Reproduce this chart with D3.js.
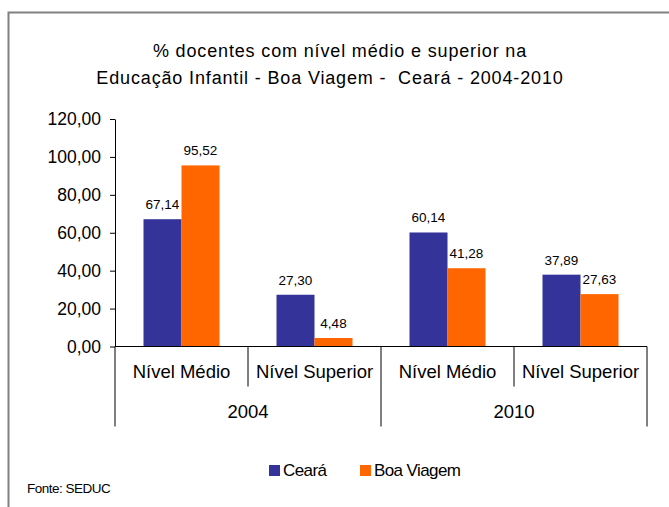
<!DOCTYPE html>
<html>
<head>
<meta charset="utf-8">
<script src="https://cdn.jsdelivr.net/npm/d3@7"></script>
<style>
  body { margin: 0; background: #fff; }
  text { font-family: "Liberation Sans", Arial, sans-serif; fill: #000; }
</style>
</head>
<body>
<div id="chart"></div>
<script>
var years = ["2004", "2010"];
var levels = ["Nível Médio", "Nível Superior"];
var series = ["Ceará", "Boa Viagem"];
var colors = ["#333399", "#FF6600"];
// values per [year][level]
var ceara = [[67.14, 27.30], [60.14, 37.89]];
var boaViagem = [[95.52, 4.48], [41.28, 27.63]];
var yTicks = [0, 20, 40, 60, 80, 100, 120];
var titleLines = ["% docentes com nível médio e superior na",
                  "Educação Infantil - Boa Viagem -  Ceará - 2004-2010"];
var source = "Fonte: SEDUC";

var W = 669, H = 507;
var locale = d3.formatLocale({decimal: ",", thousands: ".", grouping: [3], currency: ["R$", ""]});
var fmt = locale.format(".2f");

var svg = d3.select("#chart").append("svg")
    .attr("width", W)
    .attr("height", H);

// outer frame (runs off right and bottom edge)
svg.append("rect")
    .attr("x", 8.5).attr("y", 12.5)
    .attr("width", W + 10).attr("height", H + 10)
    .attr("fill", "none")
    .attr("stroke", "#808080")
    .attr("stroke-width", 2);

// title
svg.selectAll(".title")
    .data(titleLines)
  .enter().append("text")
    .attr("class", "title")
    .attr("x", function(d, i) { return i === 0 ? 340 : 330; })
    .attr("y", function(d, i) { return 57 + i * 27; })
    .attr("text-anchor", "middle")
    .style("font-size", "18px")
    .style("letter-spacing", "0.85px")
    .style("white-space", "pre")
    .text(function(d) { return d; });

// flat list of categories
var cats = [];
years.forEach(function(yr, yi) {
  levels.forEach(function(lv, li) {
    cats.push({key: yr + "|" + lv, year: yr, level: lv, values: [ceara[yi][li], boaViagem[yi][li]]});
  });
});

var plotLeft = 115, plotRight = 647, plotBottom = 346.5, plotTop = 119;

var y = d3.scaleLinear().domain([0, 120]).range([plotBottom, plotTop]);
var x0 = d3.scaleBand().domain(cats.map(function(d) { return d.key; })).range([plotLeft, plotRight]);
var x1 = d3.scaleBand().domain(series).range([0, x0.bandwidth()]).paddingInner(0).paddingOuter(0.75);
var xYear = d3.scaleBand().domain(years).range([plotLeft, plotRight]);

// y axis
var yAxis = svg.append("g")
    .attr("transform", "translate(" + plotLeft + ",0)")
    .call(d3.axisLeft(y).tickValues(yTicks).tickSize(5).tickSizeOuter(0).tickPadding(9).tickFormat(fmt));
yAxis.select(".domain").attr("stroke", "#000");
yAxis.selectAll("text").style("font-size", "17.5px").style("font-family", "'Liberation Sans', Arial, sans-serif");

// bars
var g = svg.selectAll(".cat")
    .data(cats)
  .enter().append("g")
    .attr("transform", function(d) { return "translate(" + x0(d.key) + ",0)"; });

g.selectAll("rect")
    .data(function(d) { return d.values.map(function(v, i) { return {s: series[i], v: v, i: i}; }); })
  .enter().append("rect")
    .attr("x", function(d) { return x1(d.s); })
    .attr("y", function(d) { return y(d.v); })
    .attr("width", x1.bandwidth())
    .attr("height", function(d) { return plotBottom - y(d.v); })
    .attr("fill", function(d) { return colors[d.i]; });

g.selectAll(".lbl")
    .data(function(d) { return d.values.map(function(v, i) { return {s: series[i], v: v}; }); })
  .enter().append("text")
    .attr("class", "lbl")
    .attr("x", function(d) { return x1(d.s) + x1.bandwidth() / 2; })
    .attr("y", function(d) { return y(d.v) - 10; })
    .attr("text-anchor", "middle")
    .style("font-size", "13.5px")
    .text(function(d) { return fmt(d.v); });

// x axis line
svg.append("line")
    .attr("x1", plotLeft).attr("x2", plotRight)
    .attr("y1", plotBottom).attr("y2", plotBottom)
    .attr("stroke", "#000");

// dividers
var edges = x0.domain().map(function(k) { return x0(k); }).concat([plotRight]);
svg.selectAll(".div")
    .data(edges)
  .enter().append("line")
    .attr("x1", function(d) { return d; }).attr("x2", function(d) { return d; })
    .attr("y1", plotBottom)
    .attr("y2", function(d, i) { return i % 2 === 0 ? 426.5 : 386.5; })
    .attr("stroke", "#000");

// level labels
svg.selectAll(".lvl")
    .data(cats)
  .enter().append("text")
    .attr("x", function(d) { return x0(d.key) + x0.bandwidth() / 2; })
    .attr("y", 378)
    .attr("text-anchor", "middle")
    .style("font-size", "18.5px")
    .text(function(d) { return d.level; });

// year labels
svg.selectAll(".yr")
    .data(years)
  .enter().append("text")
    .attr("x", function(d) { return xYear(d) + xYear.bandwidth() / 2; })
    .attr("y", 418)
    .attr("text-anchor", "middle")
    .style("font-size", "18.5px")
    .text(function(d) { return d; });

// legend
var legX = [269, 360];
var leg = svg.selectAll(".leg")
    .data(series)
  .enter().append("g")
    .attr("transform", function(d, i) { return "translate(" + legX[i] + ",465)"; });
leg.append("rect")
    .attr("width", 11).attr("height", 11)
    .attr("fill", function(d, i) { return colors[i]; });
leg.append("text")
    .attr("x", 14).attr("y", 11)
    .style("font-size", "17px")
    .style("letter-spacing", "-0.6px")
    .text(function(d) { return d; });

// source
svg.append("text")
    .attr("x", 27).attr("y", 493)
    .style("font-size", "13.5px")
    .style("letter-spacing", "-0.5px")
    .text(source);
</script>
</body>
</html>
